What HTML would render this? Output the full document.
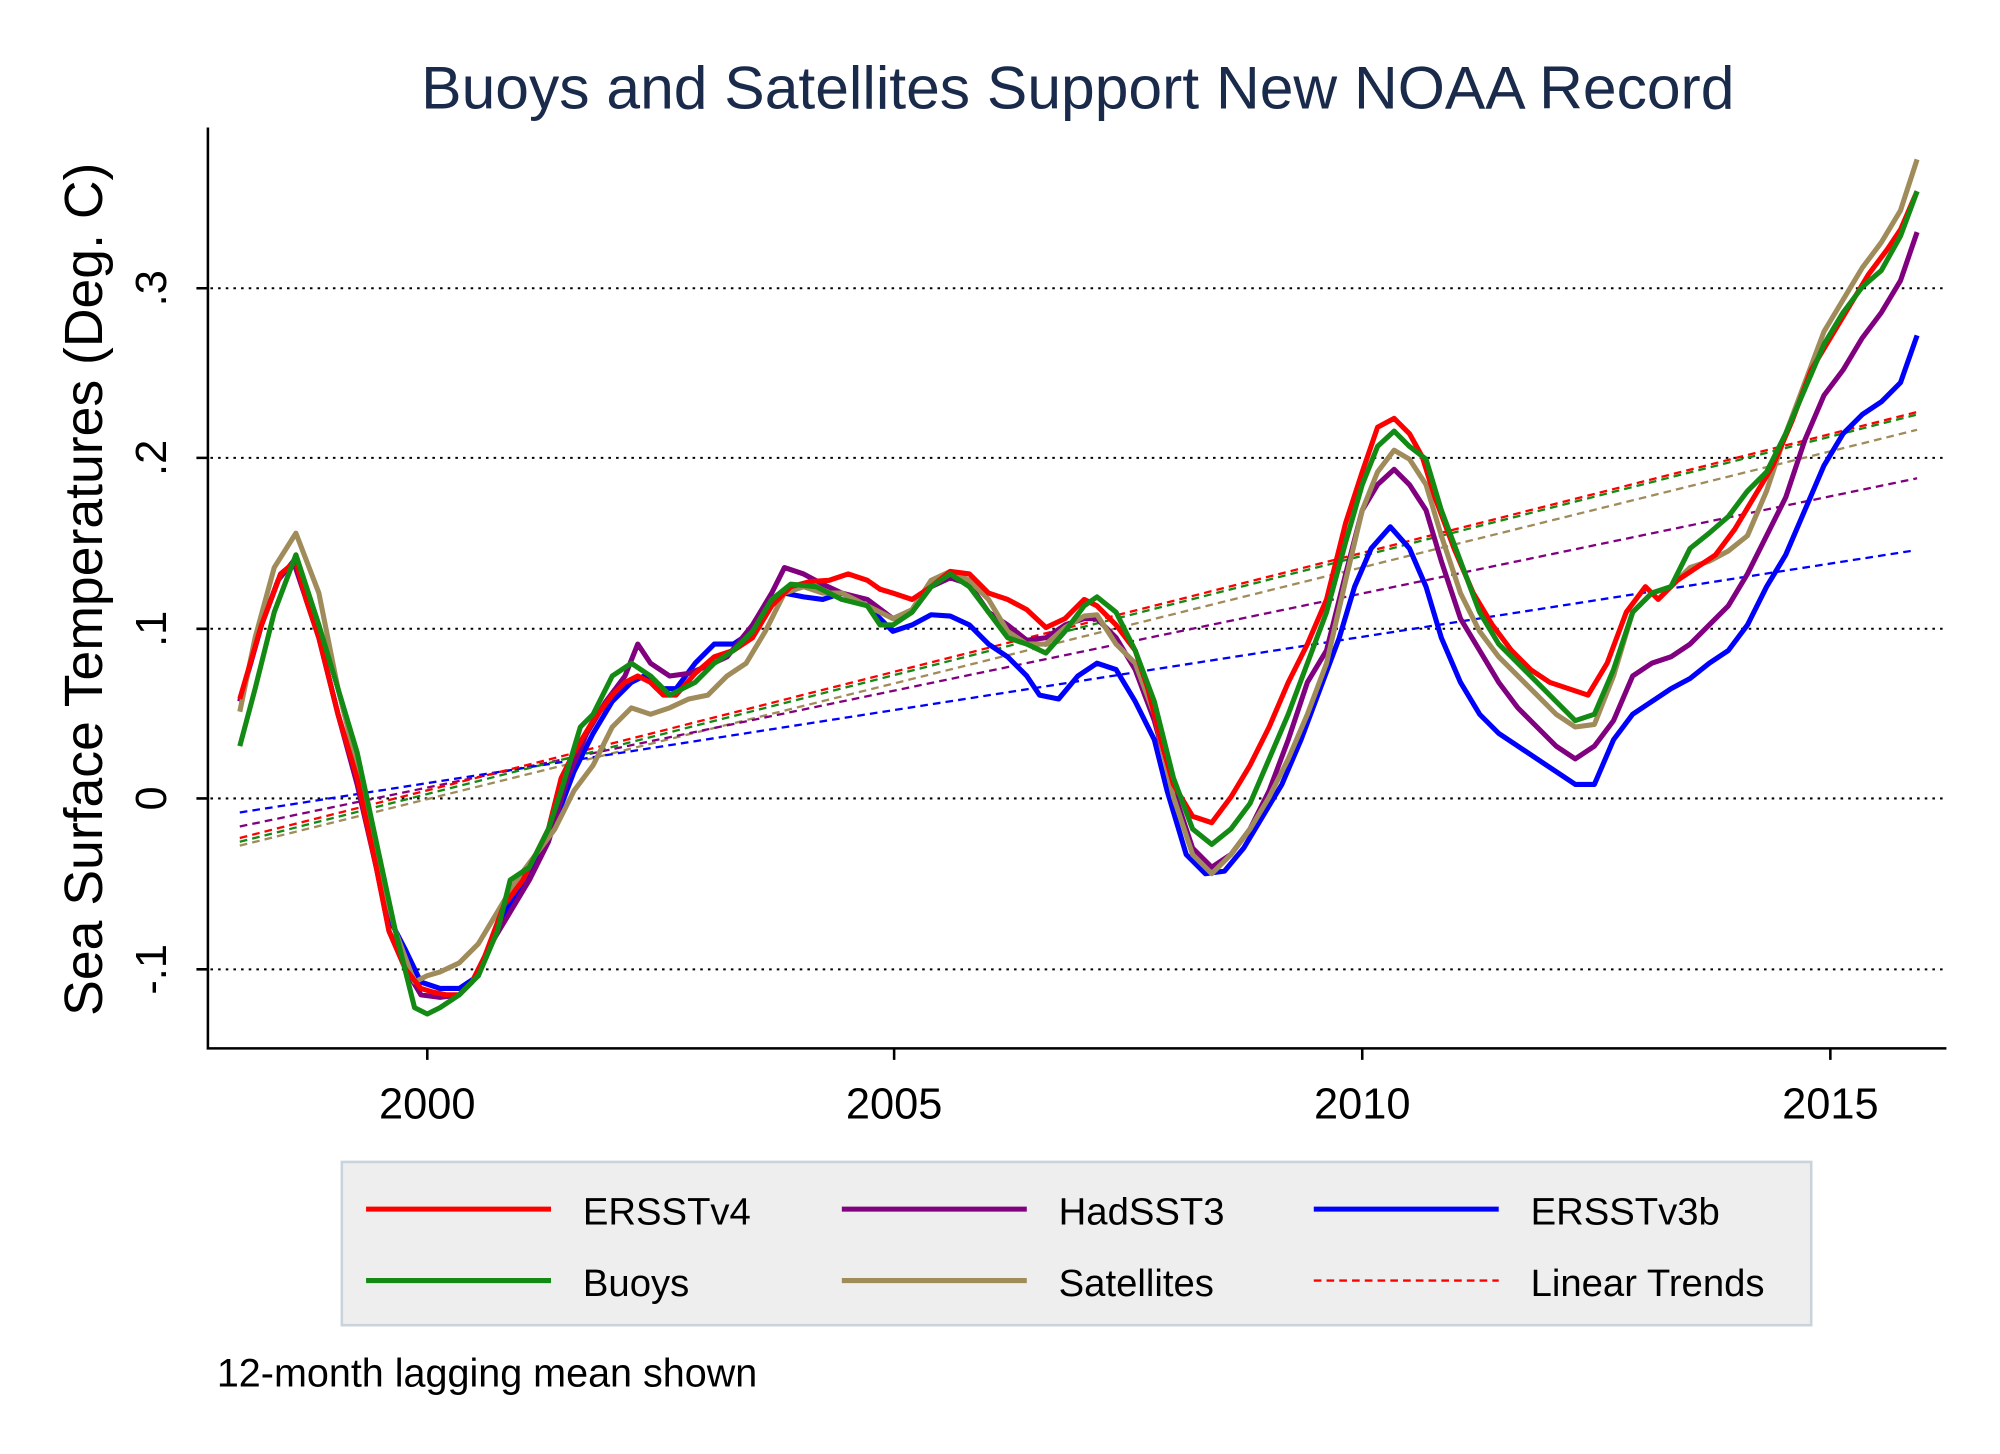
<!DOCTYPE html>
<html><head><meta charset="utf-8"><style>
html,body{margin:0;padding:0;background:#fff}
svg{display:block}
text{font-family:"Liberation Sans",Arial,sans-serif}
</style></head><body>
<svg width="2000" height="1454" viewBox="0 0 1568 1140" preserveAspectRatio="none" xmlns="http://www.w3.org/2000/svg">
<rect width="1568" height="1140" fill="#fff"/>
<text x="845" y="85" font-size="47.5" text-anchor="middle" fill="#1a2a4a">Buoys and Satellites Support New NOAA Record</text>
<g stroke="#000" stroke-width="1.6" stroke-dasharray="2,4">
<line x1="165" x2="1526" y1="226" y2="226"/><line x1="165" x2="1526" y1="359" y2="359"/>
<line x1="165" x2="1526" y1="493" y2="493"/><line x1="165" x2="1526" y1="626" y2="626"/>
<line x1="165" x2="1526" y1="760" y2="760"/></g>
<g stroke="#000" stroke-width="2" fill="none">
<path d="M163 100V822H1526"/>
<path d="M163 226h-9M163 359h-9M163 493h-9M163 626h-9M163 760h-9M335 822v9M701 822v9M1068 822v9M1435 822v9"/></g>
<g font-size="34" text-anchor="middle" fill="#000">
<text x="335" y="877">2000</text><text x="701" y="877">2005</text><text x="1068" y="877">2010</text><text x="1435" y="877">2015</text>
<text transform="translate(130,226) rotate(-90)">.3</text><text transform="translate(130,359) rotate(-90)">.2</text>
<text transform="translate(130,493) rotate(-90)">.1</text><text transform="translate(130,626) rotate(-90)">0</text>
<text transform="translate(130,760) rotate(-90)">-.1</text>
<text transform="translate(80,462) rotate(-90)" font-size="42">Sea Surface Temperatures (Deg. C)</text></g>
<g stroke-width="1.8" stroke-dasharray="6,4" fill="none">
<line x1="188" y1="663" x2="1503" y2="337" stroke="#a08c5a"/>
<line x1="188" y1="648" x2="1503" y2="375" stroke="#800080"/>
<line x1="188" y1="637" x2="1498" y2="432" stroke="#0000ff"/>
<line x1="188" y1="660" x2="1503" y2="325" stroke="#138a13"/>
<line x1="188" y1="657" x2="1503" y2="323" stroke="#ff0000"/>
</g>
<g fill="none" stroke-width="4" stroke-linejoin="round">
<polyline stroke="#0000ff" points="188,550 205,490 220,450 232,440 240,470 250,500 265,560 280,610 295,680 305,720 318,745 330,770 345,775 360,775 375,765 390,725 405,700 420,675 435,645 450,605 465,575 480,550 495,535 505,530 515,540 530,540 545,520 560,505 575,505 590,495 605,470 615,465 630,468 645,470 660,465 680,475 700,495 715,490 730,482 745,483 760,490 775,505 790,515 805,530 815,545 830,548 845,530 860,520 875,525 890,550 905,580 915,620 930,670 945,685 960,683 975,665 990,640 1005,615 1020,580 1035,540 1050,500 1062,460 1075,430 1090,413 1105,430 1118,460 1130,500 1145,535 1160,560 1175,575 1190,585 1205,595 1220,605 1235,615 1250,615 1265,580 1280,560 1295,550 1310,540 1325,532 1340,520 1355,510 1370,490 1385,460 1400,435 1415,400 1430,365 1445,340 1460,325 1475,315 1490,300 1503,263"/>
<polyline stroke="#800080" points="188,550 205,490 218,455 230,440 240,470 250,500 265,560 280,615 295,680 305,730 318,760 330,780 345,782 360,780 370,770 385,740 400,715 415,690 430,660 445,610 460,575 475,550 490,530 500,505 510,520 525,530 540,528 555,522 570,515 590,490 605,465 615,445 630,450 645,458 660,465 680,470 700,485 715,480 730,460 745,453 760,458 775,480 790,490 805,502 820,500 835,490 850,485 860,485 875,500 890,525 905,565 920,620 935,665 950,680 965,670 980,650 995,620 1010,580 1025,535 1040,510 1055,450 1068,400 1080,380 1093,368 1105,380 1118,400 1130,440 1145,485 1160,510 1175,535 1190,555 1205,570 1220,585 1235,595 1250,585 1265,565 1280,530 1295,520 1310,515 1325,505 1340,490 1355,475 1370,450 1385,420 1400,390 1415,345 1430,310 1445,290 1460,265 1475,245 1490,220 1503,182"/>
<polyline stroke="#a08c5a" points="188,558 200,500 215,445 232,418 250,465 265,540 280,600 295,670 310,730 325,770 335,765 345,762 360,755 375,740 390,715 405,690 420,670 435,650 450,620 465,600 480,570 495,555 510,560 525,555 540,548 555,545 570,530 585,520 600,495 615,465 630,460 645,465 660,465 680,475 700,485 715,478 730,455 745,448 760,455 775,470 790,495 805,505 820,505 835,492 850,483 860,482 875,505 890,520 905,560 920,625 935,670 950,685 965,670 980,650 995,625 1010,595 1025,560 1040,520 1055,455 1068,400 1080,370 1093,353 1105,360 1118,380 1130,420 1145,465 1160,495 1175,515 1190,530 1205,545 1220,560 1235,570 1250,568 1265,530 1280,480 1295,465 1310,460 1325,445 1340,440 1355,432 1370,420 1385,385 1400,340 1415,300 1430,260 1445,235 1460,210 1475,190 1490,165 1503,125"/>
<polyline stroke="#ff0000" points="188,548 205,490 220,450 232,440 240,470 250,500 265,560 280,610 295,680 305,730 318,760 330,775 340,778 350,780 360,780 370,770 380,750 395,710 410,690 420,670 430,650 440,610 450,590 465,565 480,545 490,535 500,530 510,535 520,545 530,545 545,528 560,515 575,510 590,500 605,475 620,460 635,456 650,455 665,450 680,455 690,462 700,465 715,470 730,460 745,448 760,450 775,465 790,470 805,478 820,492 835,485 850,470 860,475 875,490 890,510 900,540 910,580 920,615 935,640 950,645 965,625 980,600 995,570 1010,535 1025,505 1040,470 1055,410 1068,370 1080,335 1093,328 1105,340 1115,358 1125,390 1140,430 1155,465 1170,490 1185,510 1200,525 1215,535 1230,540 1245,545 1260,520 1275,480 1290,460 1300,470 1315,455 1330,445 1345,435 1360,415 1375,390 1390,365 1405,330 1420,290 1435,265 1450,240 1465,215 1480,195 1490,180 1503,150"/>
<polyline stroke="#138a13" points="188,585 200,540 215,480 232,435 250,490 265,540 280,590 295,660 310,730 325,790 335,795 345,790 360,780 375,765 390,730 400,690 415,680 430,650 440,620 455,570 465,560 480,530 495,520 510,530 525,545 545,535 560,520 575,510 590,495 605,470 620,458 640,460 660,470 680,475 690,490 700,490 715,480 730,460 745,450 760,460 775,480 790,500 805,505 820,512 835,495 850,475 860,468 875,480 890,510 905,550 920,610 935,650 950,662 965,650 980,630 995,595 1010,560 1025,520 1040,480 1055,425 1068,380 1080,350 1093,338 1105,350 1118,360 1130,400 1145,440 1160,480 1175,505 1190,520 1205,535 1220,550 1235,565 1250,560 1265,525 1280,480 1295,465 1310,460 1325,430 1340,418 1355,405 1370,385 1385,370 1400,340 1415,305 1430,270 1445,245 1460,225 1475,212 1490,185 1503,150"/>
</g>
<rect x="268" y="911" width="1152" height="128" fill="#eeeeee" stroke="#c9d3dc" stroke-width="2"/>
<g stroke-width="4">
<line x1="287" x2="432" y1="948" y2="948" stroke="#ff0000"/>
<line x1="660" x2="805" y1="948" y2="948" stroke="#800080"/>
<line x1="1030" x2="1175" y1="948" y2="948" stroke="#0000ff"/>
<line x1="287" x2="432" y1="1004" y2="1004" stroke="#138a13"/>
<line x1="660" x2="805" y1="1004" y2="1004" stroke="#a08c5a"/>
<line x1="1030" x2="1175" y1="1004" y2="1004" stroke="#ff0000" stroke-width="1.8" stroke-dasharray="6,4"/></g>
<g font-size="30" fill="#000">
<text x="457" y="960">ERSSTv4</text><text x="830" y="960">HadSST3</text><text x="1200" y="960">ERSSTv3b</text>
<text x="457" y="1016">Buoys</text><text x="830" y="1016">Satellites</text><text x="1200" y="1016">Linear Trends</text>
<text x="170" y="1087" font-size="31">12-month lagging mean shown</text></g>
</svg>
</body></html>
